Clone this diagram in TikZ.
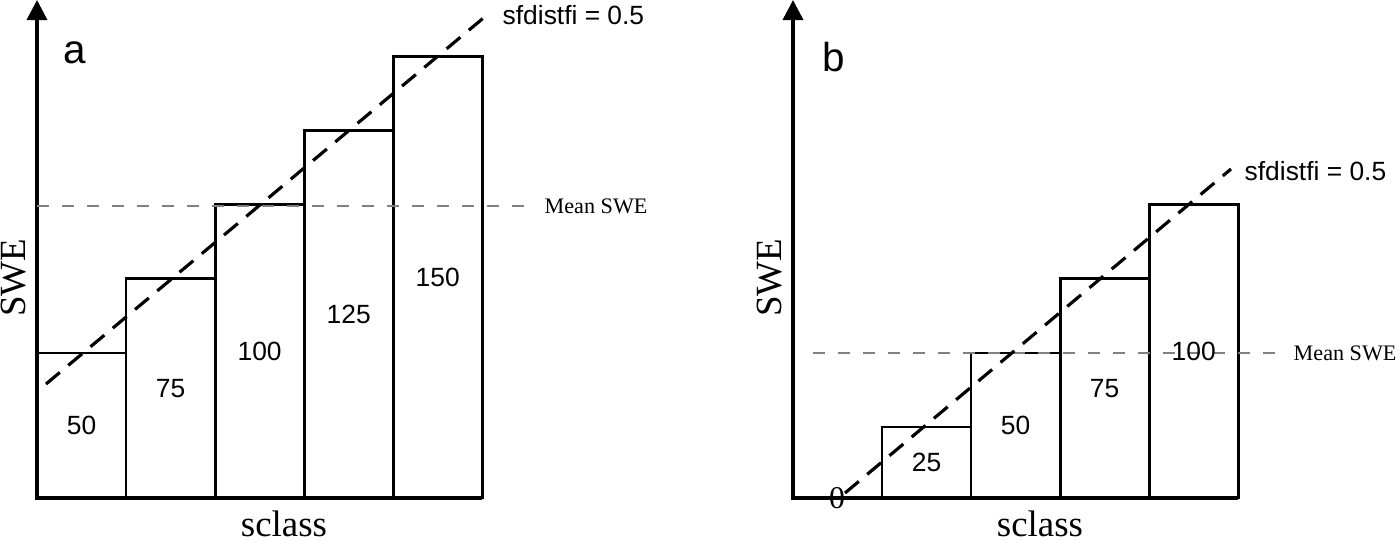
\documentclass[tikz,border=0pt]{standalone}
\usepackage{fontspec}
\setmainfont{Liberation Serif}
\setsansfont{Liberation Sans}
\usetikzlibrary{positioning,arrows.meta}

\begin{document}
\begin{tikzpicture}[x=0.01cm, y=-0.01cm,
    bar/.style={rectangle, draw, line width=0.8pt, minimum width=0.89cm, inner sep=0pt, outer sep=0pt, anchor=south west, font=\sffamily\fontsize{7.5}{9}\selectfont},
    axis/.style={line width=1pt, -{Triangle[width=0.2cm, length=0.2cm]}},
    meanline/.style={gray, line width=0.5pt, dash pattern=on 0.12cm off 0.13cm},
    fitline/.style={line width=0.9pt, dash pattern=on 0.18cm off 0.11cm},
    fitlbl/.style={anchor=west, inner sep=0pt, font=\sffamily\fontsize{7.5}{9}\selectfont},
    meanlbl/.style={anchor=west, inner sep=0pt, font=\fontsize{6.3}{8}\selectfont},
    panel/.style={font=\sffamily\fontsize{11.5}{13}\selectfont},
    axlbl/.style={font=\fontsize{10.5}{12}\selectfont}]
    \useasboundingbox (0,0) rectangle (1400,543);

    % panel a
    \coordinate (ao) at (37,498);
    \coordinate (atop) at (37,0);
    \node [bar, minimum height=1.45cm] (a1) at (ao) {50};
    \node [bar, minimum height=2.19cm] (a2) at (a1.south east) {75};
    \node [bar, minimum height=2.93cm] (a3) at (a2.south east) {100};
    \node [bar, minimum height=3.67cm] (a4) at (a3.south east) {125};
    \node [bar, minimum height=4.41cm] (a5) at (a4.south east) {150};
    \draw [axis] (a5.south east) -- (ao) -- (atop);

    \coordinate (ameanl) at (37,206);
    \coordinate (ameanr) at (529,206);
    \node [meanlbl] (amean) at (544,206) {Mean SWE};
    \draw [meanline] (ameanl) -- (ameanr);

    \coordinate (afitl) at (46,384);
    \coordinate (afitr) at (487,15);
    \node [fitlbl] (afit) at (502,15) {sfdistfi = 0.5};
    \draw [fitline] (afitl) -- (afitr);

    \node [panel] (apanel) at (75,53) {a};
    \node [axlbl, rotate=90] (aswe) at (14,278) {SWE};
    \node [axlbl] (asclass) at (284,524) {sclass};

    % panel b
    \coordinate (bo) at (793,498);
    \coordinate (btop) at (793,0);
    \node [bar, minimum height=0.71cm] (b1) at (882,498) {25};
    \node [bar, minimum height=1.45cm] (b2) at (b1.south east) {50};
    \node [bar, minimum height=2.19cm] (b3) at (b2.south east) {75};
    \node [bar, minimum height=2.93cm] (b4) at (b3.south east) {};
    \draw [axis] (b4.south east) -- (bo) -- (btop);

    \coordinate (bmeanl) at (813,353);
    \coordinate (bmeanr) at (1281,353);
    \node [meanlbl] (bmean) at (1293,353) {Mean SWE};
    \draw [meanline] (bmeanl) -- (bmeanr);
    \node [font=\sffamily\fontsize{7.5}{9}\selectfont, inner sep=0pt] (b4lbl) at (b4.center) {100};

    \coordinate (bfitl) at (845,493);
    \coordinate (bfitr) at (1231,169);
    \node [fitlbl] (bfit) at (1244,171) {sfdistfi = 0.5};
    \draw [fitline] (bfitl) -- (bfitr);
    \node [font=\fontsize{9}{10}\selectfont, inner sep=0pt] (bzero) at (837,498) {0};

    \node [panel] (bpanel) at (834,57) {b};
    \node [axlbl, rotate=90] (bswe) at (770,278) {SWE};
    \node [axlbl] (bsclass) at (1040,524) {sclass};
\end{tikzpicture}
\end{document}
